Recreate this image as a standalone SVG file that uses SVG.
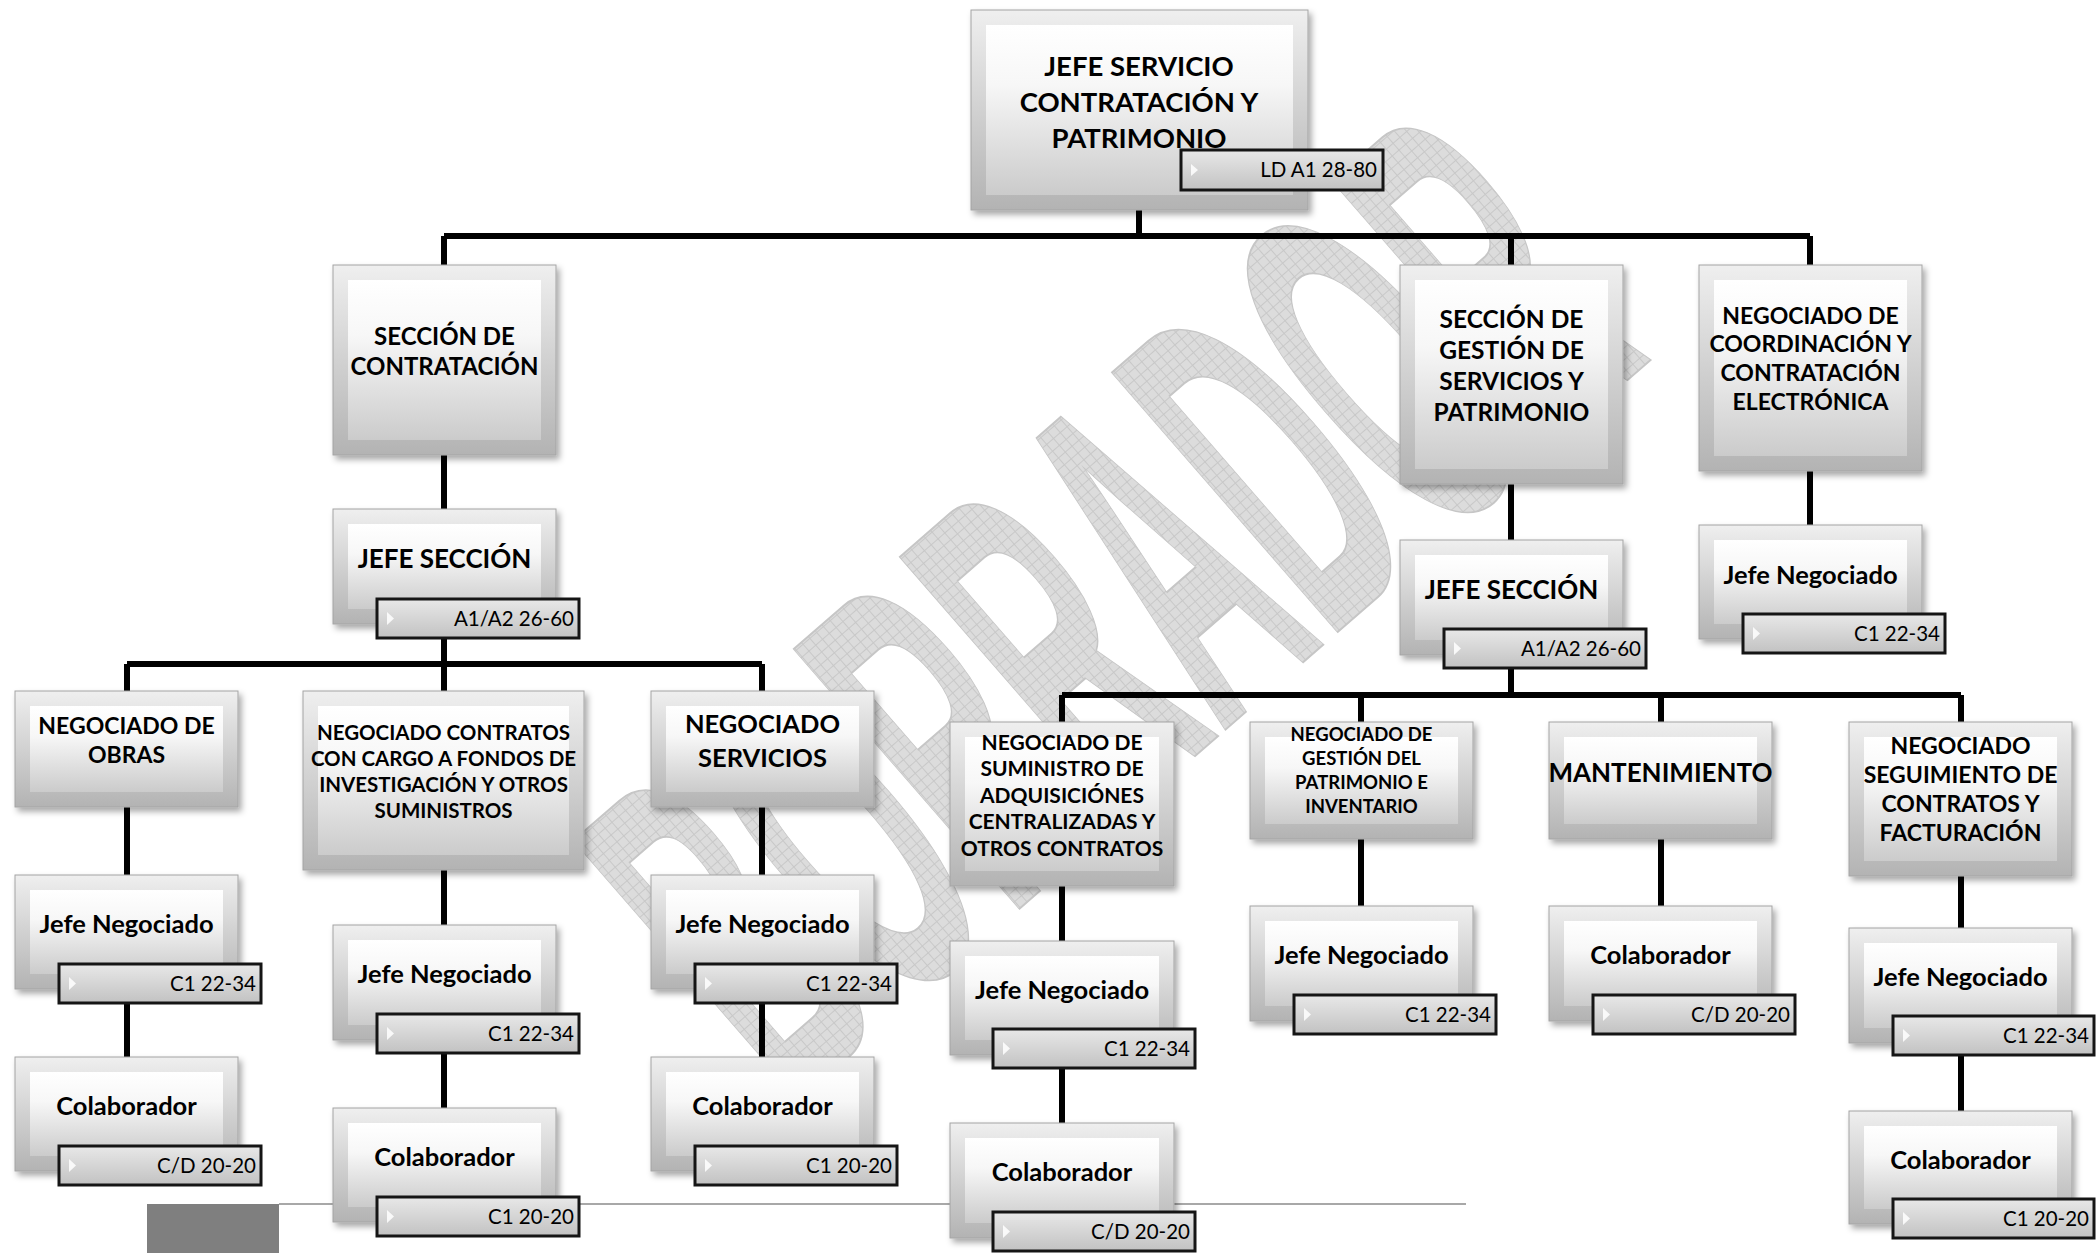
<svg xmlns="http://www.w3.org/2000/svg" width="2096" height="1253" viewBox="0 0 2096 1253">
<defs>
<linearGradient id="gOut" x1="0" y1="0" x2="0" y2="1"><stop offset="0" stop-color="#efefef"/><stop offset="1" stop-color="#b3b3b3"/></linearGradient>
<linearGradient id="gFace" x1="0" y1="0" x2="0" y2="1"><stop offset="0" stop-color="#ffffff"/><stop offset="0.35" stop-color="#f7f7f7"/><stop offset="1" stop-color="#cbcbcb"/></linearGradient>
<linearGradient id="gTag" x1="0" y1="0" x2="0" y2="1"><stop offset="0" stop-color="#e8e8e8"/><stop offset="1" stop-color="#c2c2c2"/></linearGradient>
<filter id="sh" x="-10%" y="-10%" width="130%" height="130%"><feDropShadow dx="3" dy="4" stdDeviation="3" flood-color="#000" flood-opacity="0.35"/></filter>
<pattern id="hatch" width="9" height="9" patternUnits="userSpaceOnUse"><rect width="9" height="9" fill="#dcdcdc"/><path d="M0 0.5H9M0.5 0V9" stroke="#c8c8c8" stroke-width="1"/></pattern>
<style>
.o{fill:url(#gOut);stroke:#a4a4a4;stroke-width:1;filter:url(#sh)}
.f{fill:url(#gFace)}
.t{font-family:Lato,"Liberation Sans",sans-serif;font-weight:700;fill:#000;text-anchor:middle}
.tg{fill:url(#gTag);stroke:#151515;stroke-width:3}
.tt{font-family:Lato,"Liberation Sans",sans-serif;font-size:20.5px;text-anchor:end;fill:#000}
.ar{fill:#fff;opacity:.85}
.c{stroke:#000;stroke-width:6;fill:none}
.wm{font-family:"Liberation Sans",sans-serif;font-weight:700;fill:url(#hatch);stroke:#c6c6c6;stroke-width:2}
</style>
</defs>
<rect width="2096" height="1253" fill="#fff"/>
<g id="watermark">
<text class="wm" transform="translate(789,1109) rotate(-41)" font-size="500" textLength="1146" lengthAdjust="spacingAndGlyphs">BORRADOR</text>
</g>
<g id="footer">
<rect x="147" y="1204" width="132" height="49" fill="#7f7f7f"/>
<path d="M279 1204H1466" stroke="#a8a8a8" stroke-width="2"/>
</g>
<g id="connectors">
<path class="c" d="M1139 210V236M444 236H1810M444 236V265M1511 236V265M1810 236V265"/>
<path class="c" d="M444 455V509M1511 484V540M1810 471V525"/>
<path class="c" d="M444 624V664M127 664H762M127 664V691M444 664V691M762 664V691"/>
<path class="c" d="M127 807V875M127 989V1057M444 870V925M444 1040V1108M762 807V875M762 989V1057"/>
<path class="c" d="M1511 655V695M1062 695H1961M1062 695V722M1361 695V722M1661 695V722M1961 695V722"/>
<path class="c" d="M1062 886V941M1062 1055V1123M1361 839V906M1661 839V906M1961 876V928M1961 1043V1111"/>
</g>
<g id="n-jefe-servicio">
<rect class="o" x="971" y="10" width="337" height="200"/><rect class="f" x="986" y="25" width="307" height="170"/>
<text class="t" font-size="27.5" x="1139"><tspan x="1139" y="76">JEFE SERVICIO</tspan><tspan x="1139" y="112">CONTRATACIÓN Y</tspan><tspan x="1139" y="148">PATRIMONIO</tspan></text>
<rect class="tg" x="1181" y="150" width="202" height="40"/><path class="ar" d="M1191 164L1198 170L1191 176Z"/>
<text class="tt" x="1377" y="177">LD A1 28-80</text>
</g>
<g id="n-sec-contratacion">
<rect class="o" x="333" y="265" width="223" height="190"/><rect class="f" x="348" y="280" width="193" height="160"/>
<text class="t" font-size="24"><tspan x="444.5" y="345">SECCIÓN DE</tspan><tspan x="444.5" y="375">CONTRATACIÓN</tspan></text>
</g>
<g id="n-sec-gestion">
<rect class="o" x="1400" y="265" width="223" height="219"/><rect class="f" x="1415" y="280" width="193" height="189"/>
<text class="t" font-size="24.5"><tspan x="1511.5" y="328">SECCIÓN DE</tspan><tspan x="1511.5" y="359">GESTIÓN DE</tspan><tspan x="1511.5" y="390">SERVICIOS Y</tspan><tspan x="1511.5" y="421">PATRIMONIO</tspan></text>
</g>
<g id="n-neg-coordinacion">
<rect class="o" x="1699" y="265" width="223" height="206"/><rect class="f" x="1714" y="280" width="193" height="176"/>
<text class="t" font-size="23"><tspan x="1810.5" y="324">NEGOCIADO DE</tspan><tspan x="1810.5" y="352">COORDINACIÓN Y</tspan><tspan x="1810.5" y="381">CONTRATACIÓN</tspan><tspan x="1810.5" y="410">ELECTRÓNICA</tspan></text>
</g>
<g id="n-jefe-seccion-a">
<rect class="o" x="333" y="509" width="223" height="115"/><rect class="f" x="348" y="524" width="193" height="85"/>
<text class="t" font-size="26" x="444.5" y="568">JEFE SECCIÓN</text>
<rect class="tg" x="377" y="599" width="202" height="39"/><path class="ar" d="M387 612L394 618.5L387 625Z"/>
<text class="tt" x="574" y="626">A1/A2 26-60</text>
</g>
<g id="n-jefe-seccion-b">
<rect class="o" x="1400" y="540" width="223" height="115"/><rect class="f" x="1415" y="555" width="193" height="85"/>
<text class="t" font-size="26" x="1511.5" y="599">JEFE SECCIÓN</text>
<rect class="tg" x="1444" y="629" width="202" height="39"/><path class="ar" d="M1454 642L1461 648.5L1454 655Z"/>
<text class="tt" x="1641" y="656">A1/A2 26-60</text>
</g>
<g id="n-jefe-neg-coord">
<rect class="o" x="1699" y="525" width="223" height="114"/><rect class="f" x="1714" y="540" width="193" height="84"/>
<text class="t" font-size="25.5" x="1810.5" y="584">Jefe Negociado</text>
<rect class="tg" x="1743" y="614" width="202" height="39"/><path class="ar" d="M1753 627L1760 633.5L1753 640Z"/>
<text class="tt" x="1940" y="641">C1 22-34</text>
</g>
<g id="n-neg-obras">
<rect class="o" x="15" y="691" width="223" height="116"/><rect class="f" x="30" y="706" width="193" height="86"/>
<text class="t" font-size="23"><tspan x="126.5" y="734">NEGOCIADO DE</tspan><tspan x="126.5" y="763">OBRAS</tspan></text>
</g>
<g id="n-neg-contratos">
<rect class="o" x="303" y="691" width="281" height="179"/><rect class="f" x="318" y="706" width="251" height="149"/>
<text class="t" font-size="20.5"><tspan x="443.5" y="740">NEGOCIADO CONTRATOS</tspan><tspan x="443.5" y="766">CON CARGO A FONDOS DE</tspan><tspan x="443.5" y="792">INVESTIGACIÓN Y OTROS</tspan><tspan x="443.5" y="818">SUMINISTROS</tspan></text>
</g>
<g id="n-neg-servicios">
<rect class="o" x="651" y="691" width="223" height="116"/><rect class="f" x="666" y="706" width="193" height="86"/>
<text class="t" font-size="25.5"><tspan x="762.5" y="733">NEGOCIADO</tspan><tspan x="762.5" y="767">SERVICIOS</tspan></text>
</g>
<g id="n-obras-jefe">
<rect class="o" x="15" y="875" width="223" height="114"/><rect class="f" x="30" y="890" width="193" height="84"/>
<text class="t" font-size="25.5" x="126.5" y="933">Jefe Negociado</text>
<rect class="tg" x="59" y="964" width="202" height="39"/><path class="ar" d="M69 977L76 983.5L69 990Z"/>
<text class="tt" x="256" y="991">C1 22-34</text>
</g>
<g id="n-obras-colab">
<rect class="o" x="15" y="1057" width="223" height="114"/><rect class="f" x="30" y="1072" width="193" height="84"/>
<text class="t" font-size="25.5" x="126.5" y="1115">Colaborador</text>
<rect class="tg" x="59" y="1146" width="202" height="39"/><path class="ar" d="M69 1159L76 1165.5L69 1172Z"/>
<text class="tt" x="256" y="1173">C/D 20-20</text>
</g>
<g id="n-contratos-jefe">
<rect class="o" x="333" y="925" width="223" height="115"/><rect class="f" x="348" y="940" width="193" height="85"/>
<text class="t" font-size="25.5" x="444.5" y="983">Jefe Negociado</text>
<rect class="tg" x="377" y="1014" width="202" height="39"/><path class="ar" d="M387 1027L394 1033.5L387 1040Z"/>
<text class="tt" x="574" y="1041">C1 22-34</text>
</g>
<g id="n-contratos-colab">
<rect class="o" x="333" y="1108" width="223" height="114"/><rect class="f" x="348" y="1123" width="193" height="84"/>
<text class="t" font-size="25.5" x="444.5" y="1166">Colaborador</text>
<rect class="tg" x="377" y="1197" width="202" height="39"/><path class="ar" d="M387 1210L394 1216.5L387 1223Z"/>
<text class="tt" x="574" y="1224">C1 20-20</text>
</g>
<g id="n-servicios-jefe">
<rect class="o" x="651" y="875" width="223" height="114"/><rect class="f" x="666" y="890" width="193" height="84"/>
<text class="t" font-size="25.5" x="762.5" y="933">Jefe Negociado</text>
<rect class="tg" x="695" y="964" width="202" height="39"/><path class="ar" d="M705 977L712 983.5L705 990Z"/>
<text class="tt" x="892" y="991">C1 22-34</text>
</g>
<g id="n-servicios-colab">
<rect class="o" x="651" y="1057" width="223" height="114"/><rect class="f" x="666" y="1072" width="193" height="84"/>
<text class="t" font-size="25.5" x="762.5" y="1115">Colaborador</text>
<rect class="tg" x="695" y="1146" width="202" height="39"/><path class="ar" d="M705 1159L712 1165.5L705 1172Z"/>
<text class="tt" x="892" y="1173">C1 20-20</text>
</g>
<g id="n-neg-suministro">
<rect class="o" x="950" y="722" width="224" height="164"/><rect class="f" x="965" y="737" width="194" height="134"/>
<text class="t" font-size="21"><tspan x="1062" y="750">NEGOCIADO DE</tspan><tspan x="1062" y="776">SUMINISTRO DE</tspan><tspan x="1062" y="803">ADQUISICIÓNES</tspan><tspan x="1062" y="829">CENTRALIZADAS Y</tspan><tspan x="1062" y="856">OTROS CONTRATOS</tspan></text>
</g>
<g id="n-neg-patrimonio">
<rect class="o" x="1250" y="722" width="223" height="117"/><rect class="f" x="1265" y="737" width="193" height="87"/>
<text class="t" font-size="18.5"><tspan x="1361.5" y="741">NEGOCIADO DE</tspan><tspan x="1361.5" y="765">GESTIÓN DEL</tspan><tspan x="1361.5" y="789">PATRIMONIO E</tspan><tspan x="1361.5" y="813">INVENTARIO</tspan></text>
</g>
<g id="n-mantenimiento">
<rect class="o" x="1549" y="722" width="223" height="117"/><rect class="f" x="1564" y="737" width="193" height="87"/>
<text class="t" font-size="26" x="1660.5" y="782">MANTENIMIENTO</text>
</g>
<g id="n-neg-seguimiento">
<rect class="o" x="1849" y="722" width="223" height="154"/><rect class="f" x="1864" y="737" width="193" height="124"/>
<text class="t" font-size="23"><tspan x="1960.5" y="754">NEGOCIADO</tspan><tspan x="1960.5" y="783">SEGUIMIENTO DE</tspan><tspan x="1960.5" y="812">CONTRATOS Y</tspan><tspan x="1960.5" y="841">FACTURACIÓN</tspan></text>
</g>
<g id="n-suministro-jefe">
<rect class="o" x="950" y="941" width="224" height="114"/><rect class="f" x="965" y="956" width="194" height="84"/>
<text class="t" font-size="25.5" x="1062" y="999">Jefe Negociado</text>
<rect class="tg" x="993" y="1029" width="202" height="39"/><path class="ar" d="M1003 1042L1010 1048.5L1003 1055Z"/>
<text class="tt" x="1190" y="1056">C1 22-34</text>
</g>
<g id="n-suministro-colab">
<rect class="o" x="950" y="1123" width="224" height="115"/><rect class="f" x="965" y="1138" width="194" height="85"/>
<text class="t" font-size="25.5" x="1062" y="1181">Colaborador</text>
<rect class="tg" x="993" y="1212" width="202" height="39"/><path class="ar" d="M1003 1225L1010 1231.5L1003 1238Z"/>
<text class="tt" x="1190" y="1239">C/D 20-20</text>
</g>
<g id="n-patrimonio-jefe">
<rect class="o" x="1250" y="906" width="223" height="115"/><rect class="f" x="1265" y="921" width="193" height="85"/>
<text class="t" font-size="25.5" x="1361.5" y="964">Jefe Negociado</text>
<rect class="tg" x="1294" y="995" width="202" height="39"/><path class="ar" d="M1304 1008L1311 1014.5L1304 1021Z"/>
<text class="tt" x="1491" y="1022">C1 22-34</text>
</g>
<g id="n-mantenimiento-colab">
<rect class="o" x="1549" y="906" width="223" height="115"/><rect class="f" x="1564" y="921" width="193" height="85"/>
<text class="t" font-size="25.5" x="1660.5" y="964">Colaborador</text>
<rect class="tg" x="1593" y="995" width="202" height="39"/><path class="ar" d="M1603 1008L1610 1014.5L1603 1021Z"/>
<text class="tt" x="1790" y="1022">C/D 20-20</text>
</g>
<g id="n-seguimiento-jefe">
<rect class="o" x="1849" y="928" width="223" height="115"/><rect class="f" x="1864" y="943" width="193" height="85"/>
<text class="t" font-size="25.5" x="1960.5" y="986">Jefe Negociado</text>
<rect class="tg" x="1893" y="1016" width="201" height="39"/><path class="ar" d="M1903 1029L1910 1035.5L1903 1042Z"/>
<text class="tt" x="2089" y="1043">C1 22-34</text>
</g>
<g id="n-seguimiento-colab">
<rect class="o" x="1849" y="1111" width="223" height="113"/><rect class="f" x="1864" y="1126" width="193" height="83"/>
<text class="t" font-size="25.5" x="1960.5" y="1169">Colaborador</text>
<rect class="tg" x="1893" y="1199" width="201" height="39"/><path class="ar" d="M1903 1212L1910 1218.5L1903 1225Z"/>
<text class="tt" x="2089" y="1226">C1 20-20</text>
</g>
</svg>
